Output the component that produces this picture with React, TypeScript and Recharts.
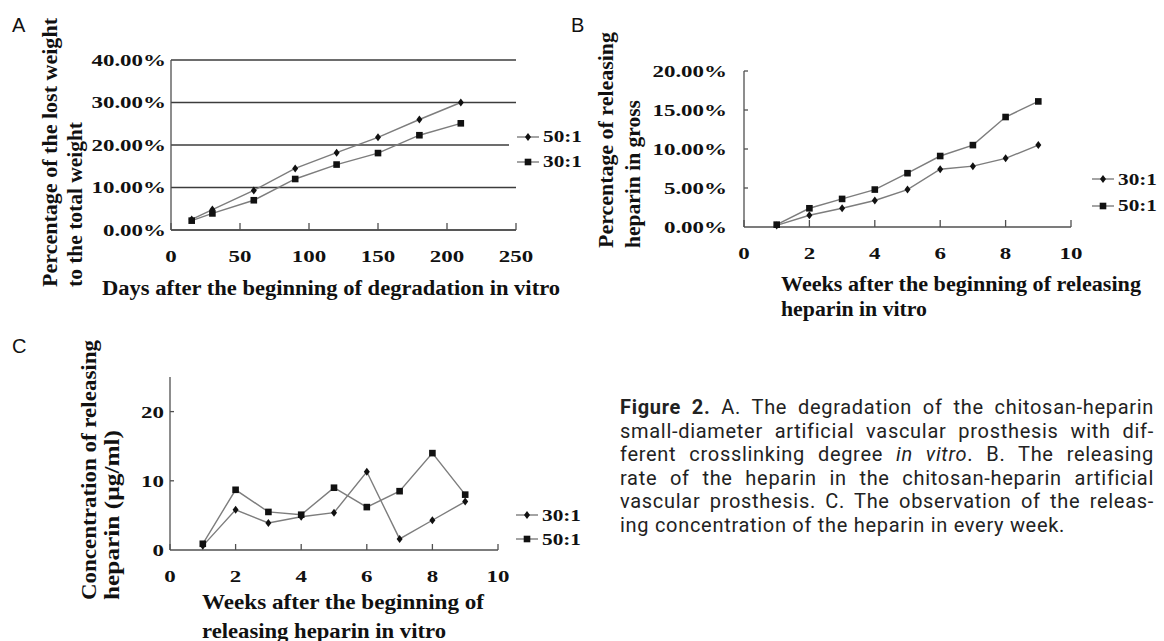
import React from 'react';
import { LineChart, Line, XAxis, YAxis, CartesianGrid, Legend } from 'recharts';

// A: weight lost (%) vs days
const daysA = [15, 30, 60, 90, 120, 150, 180, 210];
const lost50 = [2.5, 4.8, 9.3, 14.5, 18.2, 21.8, 26.0, 30.0];
const lost30 = [2.2, 3.9, 7.0, 12.0, 15.4, 18.1, 22.3, 25.1];

// B and C: weekly release
const weeks = [1, 2, 3, 4, 5, 6, 7, 8, 9];
const rate30 = [0.2, 1.5, 2.4, 3.4, 4.8, 7.4, 7.8, 8.8, 10.5];
const rate50 = [0.3, 2.4, 3.6, 4.8, 6.9, 9.1, 10.5, 14.1, 16.1];
const conc30 = [0.6, 5.8, 3.9, 4.8, 5.4, 11.3, 1.6, 4.3, 7.0];
const conc50 = [0.9, 8.7, 5.5, 5.1, 9.0, 6.2, 8.5, 14.0, 8.0];

const dayTicks = [0, 50, 100, 150, 200, 250];
const lostTicks = [0, 10, 20, 30, 40];
const weekTicks = [0, 2, 4, 6, 8, 10];
const rateTicks = [0, 5, 10, 15, 20];
const concTicks = [0, 10, 20];

const dataA = daysA.map((d, i) => ({ day: d, s50: lost50[i], s30: lost30[i] }));
const dataB = weeks.map((w, i) => ({ week: w, s30: rate30[i], s50: rate50[i] }));
const dataC = weeks.map((w, i) => ({ week: w, s30: conc30[i], s50: conc50[i] }));

const LINE = '#7d7d7d';
const MARK = '#111';
const AXIS = '#505050';
const GRID = '#3c3c3c';
const SERIF = '"Liberation Serif", "Times New Roman", serif';

const tickFont = { fontFamily: SERIF, fontWeight: 700, fontSize: 17, fill: '#111' };
const titleFont = { fontFamily: SERIF, fontWeight: 700, fontSize: 20, fill: '#111' };

const Diamond = ({ cx, cy }: any) =>
  cx == null ? null : (
    <path d={`M${cx},${cy - 4} L${cx + 3},${cy} L${cx},${cy + 4} L${cx - 3},${cy} Z`} fill={MARK} />
  );

const Square = ({ cx, cy }: any) =>
  cx == null ? null : <rect x={cx - 3.3} y={cy - 3.3} width={6.6} height={6.6} fill={MARK} />;

const diamondDot = (p: any) => <Diamond key={`d-${p.index}`} cx={p.cx} cy={p.cy} />;
const squareDot = (p: any) => <Square key={`s-${p.index}`} cx={p.cx} cy={p.cy} />;

// bottom axis tick: small mark pointing into the plot, label below
const BottomTick = ({ x, y, payload, len }: any) => (
  <g>
    {len > 0 && <line x1={x} x2={x} y1={y} y2={y - len} stroke={AXIS} strokeWidth={1.3} />}
    <g transform={`translate(${x},${y + 32})`}>
      <text transform="scale(1.35,1)" textAnchor="middle" style={tickFont}>
        {payload.value}
      </text>
    </g>
  </g>
);

// left axis tick, optional inside mark
const LeftTick = ({ x, y, payload, gap, len, pct }: any) => (
  <g>
    {len > 0 && payload.value !== 0 && (
      <line x1={x} x2={x + len} y1={y} y2={y} stroke={AXIS} strokeWidth={1.3} />
    )}
    <g transform={`translate(${x - gap},${y})`}>
      <text transform="scale(1.35,1)" textAnchor="end" dy="0.35em" style={tickFont}>
        {pct ? `${payload.value.toFixed(2)}%` : payload.value}
      </text>
    </g>
  </g>
);

const makeLegend = (items: { name: string; marker: string }[], rowH: number, bg: boolean) => () => (
  <div style={{ background: bg ? '#fff' : 'transparent', paddingLeft: bg ? 8 : 0 }}>
    {items.map((it) => (
      <div key={it.name} style={{ height: rowH, display: 'flex', alignItems: 'center' }}>
        <svg width={22} height={12} style={{ display: 'block' }}>
          <line x1={0} x2={22} y1={6} y2={6} stroke={LINE} strokeWidth={1.4} />
          {it.marker === 'diamond' ? <Diamond cx={11} cy={6} /> : <Square cx={11} cy={6} />}
        </svg>
        <span
          style={{
            marginLeft: 4,
            display: 'inline-block',
            transform: 'scaleX(1.25)',
            transformOrigin: 'left center',
            fontFamily: SERIF,
            fontWeight: 700,
            fontSize: 17,
            color: '#111',
            lineHeight: 1,
          }}
        >
          {it.name}
        </span>
      </div>
    ))}
  </div>
);

const axisLine = { stroke: AXIS, strokeWidth: 1.3 };

const RotTitle = ({ x, y, len, children }: any) => (
  <text
    transform={`translate(${x},${y}) rotate(-90)`}
    textLength={len}
    lengthAdjust="spacingAndGlyphs"
    style={titleFont}
  >
    {children}
  </text>
);

const HTitle = ({ x, y, len, children }: any) => (
  <text x={x} y={y} textLength={len} lengthAdjust="spacingAndGlyphs" style={titleFont}>
    {children}
  </text>
);

const captionLines: React.ReactNode[] = [
  <>
    <b>Figure 2.</b> A. The degradation of the chitosan-heparin
  </>,
  <>small-diameter artificial vascular prosthesis with dif-</>,
  <>
    ferent crosslinking degree <i>in vitro</i>. B. The releasing
  </>,
  <>rate of the heparin in the chitosan-heparin artificial</>,
  <>vascular prosthesis. C. The observation of the releas-</>,
  <>ing concentration of the heparin in every week.</>,
];

export default function App() {
  return (
    <div
      style={{
        position: 'absolute',
        left: 0,
        top: 0,
        width: 1164,
        height: 641,
        background: '#fff',
        overflow: 'hidden',
      }}
    >
      {/* A */}
      <div style={{ position: 'absolute', left: 0, top: 0 }}>
        <LineChart width={585} height={300} data={dataA} margin={{ top: 60, right: 69, bottom: 0, left: 0 }}>
          <CartesianGrid vertical={false} stroke={GRID} strokeWidth={1.3} />
          <XAxis
            dataKey="day"
            type="number"
            domain={[0, 250]}
            ticks={dayTicks}
            interval={0}
            height={70}
            tickSize={0}
            tickMargin={0}
            tickLine={false}
            axisLine={axisLine}
            tick={(p: any) => <BottomTick {...p} len={7} />}
          />
          <YAxis
            type="number"
            domain={[0, 40]}
            ticks={lostTicks}
            interval={0}
            width={171}
            tickSize={0}
            tickMargin={0}
            tickLine={false}
            axisLine={axisLine}
            tick={(p: any) => <LeftTick {...p} gap={5} len={0} pct />}
          />
          <Legend
            layout="vertical"
            align="center"
            verticalAlign="middle"
            wrapperStyle={{ left: 509, top: 124, width: 'auto' }}
            content={makeLegend([{ name: '50:1', marker: 'diamond' }, { name: '30:1', marker: 'square' }], 25, true)}
          />
          <Line type="linear" dataKey="s50" name="50:1" stroke={LINE} strokeWidth={1.4} dot={diamondDot} isAnimationActive={false} />
          <Line type="linear" dataKey="s30" name="30:1" stroke={LINE} strokeWidth={1.4} dot={squareDot} isAnimationActive={false} />
        </LineChart>
      </div>

      {/* B */}
      <div style={{ position: 'absolute', left: 560, top: 0 }}>
        <LineChart width={604} height={330} data={dataB} margin={{ top: 71, right: 93, bottom: 0, left: 0 }}>
          <XAxis
            dataKey="week"
            type="number"
            domain={[0, 10]}
            ticks={weekTicks}
            interval={0}
            height={103}
            tickSize={0}
            tickMargin={0}
            tickLine={false}
            axisLine={axisLine}
            tick={(p: any) => <BottomTick {...p} len={7} />}
          />
          <YAxis
            type="number"
            domain={[0, 20]}
            ticks={rateTicks}
            interval={0}
            width={184}
            tickSize={0}
            tickMargin={0}
            tickLine={false}
            axisLine={axisLine}
            tick={(p: any) => <LeftTick {...p} gap={17} len={4} pct />}
          />
          <Legend
            layout="vertical"
            align="center"
            verticalAlign="middle"
            wrapperStyle={{ left: 532, top: 166, width: 'auto' }}
            content={makeLegend([{ name: '30:1', marker: 'diamond' }, { name: '50:1', marker: 'square' }], 26.5, false)}
          />
          <Line type="linear" dataKey="s30" name="30:1" stroke={LINE} strokeWidth={1.4} dot={diamondDot} isAnimationActive={false} />
          <Line type="linear" dataKey="s50" name="50:1" stroke={LINE} strokeWidth={1.4} dot={squareDot} isAnimationActive={false} />
        </LineChart>
      </div>

      {/* C */}
      <div style={{ position: 'absolute', left: 0, top: 330 }}>
        <LineChart width={585} height={311} data={dataC} margin={{ top: 47, right: 87, bottom: 0, left: 0 }}>
          <XAxis
            dataKey="week"
            type="number"
            domain={[0, 10]}
            ticks={weekTicks}
            interval={0}
            height={91}
            tickSize={0}
            tickMargin={0}
            tickLine={false}
            axisLine={axisLine}
            tick={(p: any) => <BottomTick {...p} len={6} />}
          />
          <YAxis
            type="number"
            domain={[0, 25]}
            ticks={concTicks}
            interval={0}
            width={170}
            tickSize={0}
            tickMargin={0}
            tickLine={false}
            axisLine={axisLine}
            tick={(p: any) => <LeftTick {...p} gap={6} len={4} />}
          />
          <Legend
            layout="vertical"
            align="center"
            verticalAlign="middle"
            wrapperStyle={{ left: 516, top: 173, width: 'auto' }}
            content={makeLegend([{ name: '30:1', marker: 'diamond' }, { name: '50:1', marker: 'square' }], 24, false)}
          />
          <Line type="linear" dataKey="s30" name="30:1" stroke={LINE} strokeWidth={1.4} dot={diamondDot} isAnimationActive={false} />
          <Line type="linear" dataKey="s50" name="50:1" stroke={LINE} strokeWidth={1.4} dot={squareDot} isAnimationActive={false} />
        </LineChart>
      </div>

      {/* panel letters and axis titles */}
      <svg
        width={1164}
        height={641}
        style={{ position: 'absolute', left: 0, top: 0, pointerEvents: 'none' }}
      >
        <g style={{ fontFamily: '"Liberation Sans", Arial, sans-serif', fontSize: 20, fill: '#111' }}>
          <text x={12} y={32}>A</text>
          <text x={571} y={32}>B</text>
          <text x={12} y={353}>C</text>
        </g>

        <RotTitle x={57} y={287} len={269}>Percentage of the lost weight</RotTitle>
        <RotTitle x={82} y={287} len={165}>to the total weight</RotTitle>
        <HTitle x={102} y={295} len={458}>Days after the beginning of degradation in vitro</HTitle>

        <RotTitle x={613} y={248} len={216}>Percentage of releasing</RotTitle>
        <RotTitle x={640} y={248} len={148}>heparin in gross</RotTitle>
        <HTitle x={781} y={291} len={360}>Weeks after the beginning of releasing</HTitle>
        <HTitle x={781} y={316} len={146}>heparin in vitro</HTitle>

        <RotTitle x={96} y={600} len={260}>Concentration of releasing</RotTitle>
        <RotTitle x={119} y={600} len={170}>heparin (µg/ml)</RotTitle>
        <HTitle x={202} y={609} len={282}>Weeks after the beginning of</HTitle>
        <HTitle x={202} y={638} len={244}>releasing heparin in vitro</HTitle>
      </svg>

      {/* caption */}
      <div
        style={{
          position: 'absolute',
          left: 620,
          top: 396,
          width: 534,
          fontFamily: 'Roboto, "Liberation Sans", sans-serif',
          fontSize: 20,
          lineHeight: '23.6px',
          letterSpacing: '0.7px',
          color: '#222',
        }}
      >
        {captionLines.map((ln, i) => (
          <div
            key={i}
            style={{
              whiteSpace: 'nowrap',
              textAlign: 'justify',
              textAlignLast: i === captionLines.length - 1 ? 'left' : 'justify',
            }}
          >
            {ln}
          </div>
        ))}
      </div>
    </div>
  );
}
